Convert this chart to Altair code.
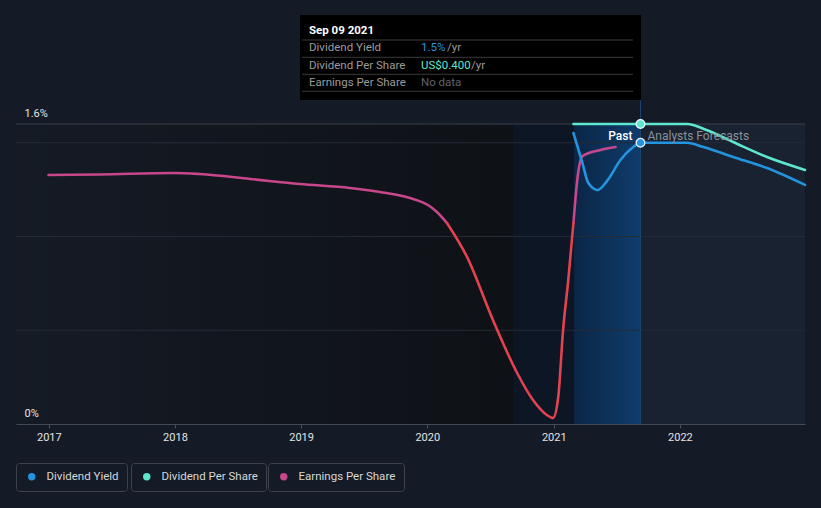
import altair as alt
import pandas as pd

BG = "#151b26"
W, H = 789, 409
Y_MAX = H / 187.5

# ---------------- data ----------------
x_domain = ["2016-09-28", "2022-12-29"]
year_ticks = ["2017-01-01", "2018-01-01", "2019-01-01", "2020-01-01", "2021-01-01", "2022-01-01"]

eps_dates = ["2016-12-31", "2017-05-29", "2017-12-29", "2018-03-14", "2018-08-06", "2018-12-28",
             "2019-05-22", "2019-08-17", "2019-11-12", "2020-01-03", "2020-01-29", "2020-02-27",
             "2020-04-25", "2020-07-09", "2020-09-17", "2020-11-02", "2020-12-12", "2020-12-30",
             "2021-01-14", "2021-01-28", "2021-02-12", "2021-02-27", "2021-03-10", "2021-03-25",
             "2021-05-16", "2021-06-29"]
eps_values = [1.328, 1.331, 1.339, 1.333, 1.307, 1.280,
              1.259, 1.237, 1.205, 1.168, 1.131, 1.072,
              0.891, 0.555, 0.272, 0.128, 0.048, 0.032,
              0.144, 0.501, 0.768, 1.072, 1.301, 1.429,
              1.461, 1.477]
eps_low_start = "2020-02-27"
eps_low_end = "2021-02-27"

dy_dates = ["2021-02-27", "2021-03-25", "2021-04-11", "2021-05-08", "2021-06-06", "2021-07-13",
            "2021-08-19", "2021-09-09", "2022-01-22", "2022-03-10", "2022-06-04", "2022-09-10",
            "2022-12-29"]
dy_values = [1.552, 1.392, 1.285, 1.248, 1.301, 1.408,
             1.477, 1.500, 1.500, 1.477, 1.424, 1.365,
             1.275]

dps_dates = ["2021-02-27", "2021-09-09", "2022-01-22", "2022-03-19", "2022-06-04", "2022-09-10",
             "2022-12-29"]
dps_values = [1.600, 1.600, 1.600, 1.568, 1.504, 1.424, 1.355]

tooltip_date = "2021-09-09"
tooltip_title = "Sep 09 2021"
tooltip_dy = 1.5
tooltip_dps = 1.6
tooltip_rows = ["Dividend Yield", "Dividend Per Share", "Earnings Per Share"]
tooltip_vals = ["1.5%", "US$0.400", "No data"]

band_edges = ["2016-09-28", "2020-09-05", "2021-03-01", "2021-09-09", "2022-12-29"]
top_value = 1.6
grid_values = [0.5, 1.0, 1.5]
label_values = [0, 1.6]
past_label_value = 1.536

C_DY = "#2394e0"
C_DPS = "#5fe6cf"
C_EPS = "#c8478c"
C_EPS_LOW = "#e2434f"


def ms(s):
    return int(pd.Timestamp(s, tz="UTC").value // 10**6)


x_scale = alt.Scale(type="utc", domain=[ms(d) for d in x_domain], nice=False)
y_scale = alt.Scale(domain=[0, Y_MAX], nice=False, zero=False)

x_axis = alt.Axis(values=[ms(d) for d in year_ticks], format="%Y", title=None, grid=False,
                  labelColor="#e3e3e3", labelFont="Roboto", labelFontSize=11,
                  domainColor="#454b56", tickColor="#4b515c", tickSize=4, labelPadding=3,
                  zindex=1)
y_axis = alt.Axis(values=label_values, title=None, grid=False, domain=False, ticks=False,
                  labelExpr="datum.value < 0.1 ? '0%' : '1.6%'",
                  labelAlign="left", labelBaseline="bottom", labelPadding=-8, labelOffset=-6,
                  labelColor="#e3e3e3", labelFont="Roboto", labelFontSize=11, zindex=1)


def X(field):
    return alt.X(field, type="temporal", scale=x_scale, axis=x_axis, title=None)


def Y(field):
    return alt.Y(field, type="quantitative", scale=y_scale, axis=y_axis, title=None)


one = pd.DataFrame({"k": [0]})

# ---------------- background bands ----------------
def band(i, fill):
    df = pd.DataFrame({"start": [band_edges[i]], "end": [band_edges[i + 1]],
                       "lo": [0.0], "hi": [top_value]})
    return alt.Chart(df).mark_rect(color=fill).encode(x=X("start"), x2="end", y=Y("lo"), y2="hi")


g_left = alt.Gradient(gradient="linear", x1=0, x2=1, y1=0, y2=0,
                      stops=[alt.GradientStop(color="#151b25", offset=0),
                             alt.GradientStop(color="#0e1116", offset=1)])
g_past = alt.Gradient(gradient="linear", x1=0, x2=1, y1=0, y2=0,
                      stops=[alt.GradientStop(color="#0b2646", offset=0),
                             alt.GradientStop(color="#0f3c6c", offset=1)])
bands = [band(0, g_left), band(1, "#0d1625"), band(2, g_past), band(3, "#182230")]

grid = alt.Chart(pd.DataFrame({"v": grid_values})).mark_rule(color="#252b36", strokeWidth=1).encode(y=Y("v"))
top_line = alt.Chart(pd.DataFrame({"v": [top_value]})).mark_rule(color="#3b404b", strokeWidth=1).encode(y=Y("v"))

vline = alt.Chart(pd.DataFrame({"d": [tooltip_date], "a": [0.0], "b": [Y_MAX]})).mark_rule(
    color="#1d4373", strokeWidth=1).encode(x=X("d"), y=Y("a"), y2="b")

# ---------------- lines ----------------
eps = pd.DataFrame({"date": eps_dates, "value": eps_values})
eps["series"] = "Earnings Per Share"
eps_a = eps[eps["date"] <= eps_low_start].assign(seg="a")
eps_c = eps[eps["date"] >= eps_low_end].assign(seg="c")
eps_pink = pd.concat([eps_a, eps_c])
eps_red = eps[(eps["date"] >= eps_low_start) & (eps["date"] <= eps_low_end)]


def leg(x, color):
    return alt.Legend(orient="none", legendX=x, legendY=448, title=None,
                      symbolType="circle", symbolSize=55, symbolFillColor=color,
                      symbolStrokeColor=color, symbolStrokeWidth=0, symbolOffset=2,
                      labelFont="Roboto", labelFontSize=11.5, labelColor="#d6d6d6", labelOffset=9,
                      padding=8, cornerRadius=3, strokeColor="#3d424d", fillColor=BG)


line_kw = dict(interpolate="monotone", strokeWidth=2.6, strokeCap="round", strokeJoin="round")

eps_line = alt.Chart(eps_pink).mark_line(**line_kw).encode(
    x=X("date"), y=Y("value"), detail="seg:N",
    color=alt.Color("series:N", scale=alt.Scale(domain=["Earnings Per Share"], range=[C_EPS]),
                    legend=leg(252, C_EPS)))
eps_low = alt.Chart(eps_red).mark_line(color=C_EPS_LOW, **line_kw).encode(x=X("date"), y=Y("value"))

dy = pd.DataFrame({"date": dy_dates, "value": dy_values, "series": "Dividend Yield"})
dps = pd.DataFrame({"date": dps_dates, "value": dps_values, "series": "Dividend Per Share"})

dps_line = alt.Chart(dps).mark_line(**line_kw).encode(
    x=X("date"), y=Y("value"),
    color=alt.Color("series:N", scale=alt.Scale(domain=["Dividend Per Share"], range=[C_DPS]),
                    legend=leg(115, C_DPS)))
dy_line = alt.Chart(dy).mark_line(**line_kw).encode(
    x=X("date"), y=Y("value"),
    color=alt.Color("series:N", scale=alt.Scale(domain=["Dividend Yield"], range=[C_DY]),
                    legend=leg(0, C_DY)))

dot_dps = alt.Chart(pd.DataFrame({"d": [tooltip_date], "v": [tooltip_dps]})).mark_circle(
    size=75, fill=C_DPS, stroke="#e6fbff", strokeWidth=1.3, opacity=1).encode(x=X("d"), y=Y("v"))
dot_dy = alt.Chart(pd.DataFrame({"d": [tooltip_date], "v": [tooltip_dy]})).mark_circle(
    size=75, fill=C_DY, stroke="#e6f3ff", strokeWidth=1.3, opacity=1).encode(x=X("d"), y=Y("v"))

lbl_df = pd.DataFrame({"d": [tooltip_date], "v": [past_label_value]})
past_lbl = alt.Chart(lbl_df).mark_text(text="Past", align="right", baseline="middle", dx=-8,
                                       font="Roboto", fontSize=12, fontWeight=500,
                                       color="#ffffff").encode(x=X("d"), y=Y("v"))
fc_lbl = alt.Chart(lbl_df).mark_text(text="Analysts Forecasts", align="left", baseline="middle", dx=7,
                                     font="Roboto", fontSize=12, color="#8b9099").encode(x=X("d"), y=Y("v"))

# ---------------- tooltip overlay ----------------
tip = [alt.Chart(one).mark_rect(color="#000000").encode(
    x=alt.value(284), x2=alt.value(625), y=alt.value(0), y2=alt.value(85))]
for yy in [25, 42.3, 59.3, 76.3]:
    tip.append(alt.Chart(one).mark_rule(color="#3a3a3a", strokeWidth=1).encode(
        x=alt.value(286), x2=alt.value(617), y=alt.value(yy)))


def ttext(txt, x, y, color, weight="normal"):
    return alt.Chart(one).mark_text(text=txt, align="left", baseline="middle", font="Roboto",
                                    fontSize=11.5, fontWeight=weight, color=color).encode(
        x=alt.value(x), y=alt.value(y))


tip.append(ttext(tooltip_title, 293, 16, "#ffffff", "bold"))
row_y = [33, 50.7, 67.7]
for name, yy in zip(tooltip_rows, row_y):
    tip.append(ttext(name, 293, yy, "#9b9b9b"))
tip.append(ttext(tooltip_vals[0], 405, row_y[0], C_DY))
tip.append(ttext("/yr", 431, row_y[0], "#9b9b9b"))
tip.append(ttext(tooltip_vals[1], 405, row_y[1], C_DPS))
tip.append(ttext("/yr", 455, row_y[1], "#9b9b9b"))
tip.append(ttext(tooltip_vals[2], 405, row_y[2], "#5f636b"))

chart = alt.layer(
    *bands, grid, top_line, vline,
    eps_line, eps_low, dps_line, dy_line, dot_dps, dot_dy, past_lbl, fc_lbl,
    *tip
).resolve_scale(color="independent").properties(
    width=W, height=H,
    padding={"left": 16, "top": 15, "right": 16, "bottom": 84},
    autosize=alt.AutoSizeParams(type="none"),
    background=BG,
).configure(font="Roboto").configure_view(stroke=None, strokeWidth=0)

chart.save("out.html", embed_options={"renderer": "svg", "actions": False})
